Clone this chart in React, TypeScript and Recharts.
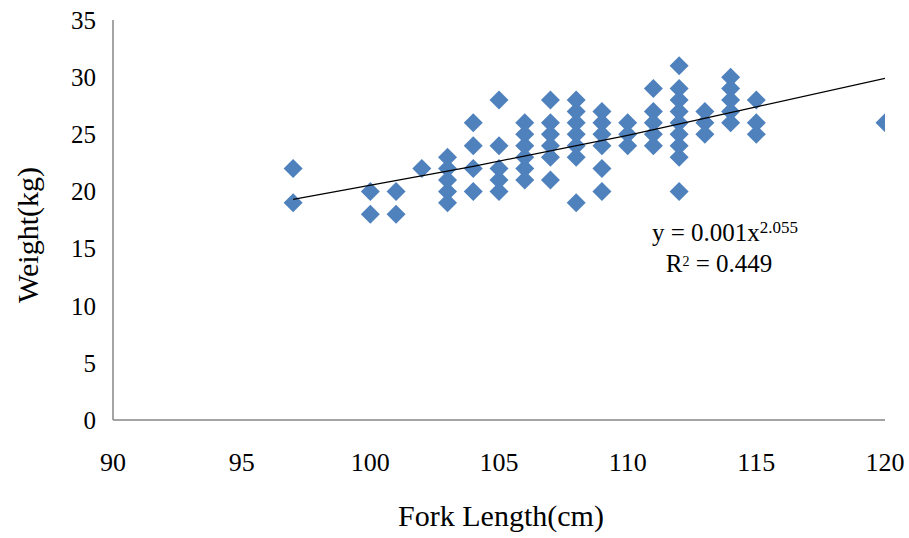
import { ScatterChart, Scatter, XAxis, YAxis } from "recharts";

// fork length (cm) columns and the weights (kg) measured at each
const lengths = [97, 100, 101, 102, 103, 104, 105, 106, 107, 108, 109, 110, 111, 112, 113, 114, 115, 120];
const weights = [
  [22, 19],
  [20, 18],
  [20, 18],
  [22],
  [23, 22, 21, 20, 19],
  [26, 24, 22, 20],
  [28, 24, 22, 21, 20],
  [26, 25, 24, 23, 22, 21],
  [28, 26, 25, 24, 23, 21],
  [28, 27, 26, 25, 24, 23, 19],
  [27, 26, 25, 24, 22, 20],
  [26, 25, 24],
  [29, 27, 26, 25, 24],
  [31, 29, 28, 27, 26, 25, 24, 23, 20],
  [27, 26, 25],
  [30, 29, 28, 27, 26],
  [28, 26, 25],
  [26],
];

// power trendline
const trendX = [97, 104, 110, 115, 120];
const trendY = [19.3, 22.2, 24.9, 27.4, 29.9];

const xTicks = [90, 95, 100, 105, 110, 115, 120];
const yTicks = [0, 5, 10, 15, 20, 25, 30, 35];

const points = lengths.flatMap((len, i) =>
  weights[i].map((w) => ({ length: len, weight: w }))
);
const trend = trendX.map((x, i) => ({ length: x, weight: trendY[i] }));

const font = "'Times New Roman', 'Liberation Serif', serif";
const axisColor = "#868686";

const Diamond = (props: any) => {
  const { cx, cy } = props;
  const r = 9.5;
  return (
    <polygon
      points={`${cx},${cy - r} ${cx + r},${cy} ${cx},${cy + r} ${cx - r},${cy}`}
      fill="#4F81BD"
    />
  );
};

export default function App() {
  return (
    <div
      style={{
        position: "absolute",
        left: 0,
        top: 0,
        background: "#fff",
        fontFamily: font,
      }}
    >
      <ScatterChart
        width={909}
        height={538}
        margin={{ top: 20, right: 24, bottom: 58, left: 13 }}
        style={{ fontFamily: font }}
      >
        <XAxis
          type="number"
          dataKey="length"
          domain={[90, 120]}
          ticks={xTicks}
          interval={0}
          allowDataOverflow
          axisLine={{ stroke: axisColor, strokeWidth: 1.5 }}
          tickLine={false}
          tickSize={0}
          tickMargin={33}
          height={60}
          tick={{ fill: "#000", fontSize: 26, fontFamily: font, style: { fontFamily: font } }}
          label={{
            content: () => (
              <text x={501} y={526} textAnchor="middle" fontSize={30} fontFamily={font} fill="#000">
                Fork Length(cm)
              </text>
            ),
          }}
        />
        <YAxis
          type="number"
          dataKey="weight"
          domain={[0, 35]}
          ticks={yTicks}
          interval={0}
          axisLine={{ stroke: axisColor, strokeWidth: 1.5 }}
          tickLine={false}
          tickSize={0}
          tickMargin={17}
          width={100}
          tick={{ fill: "#000", fontSize: 25, fontFamily: font, style: { fontFamily: font } }}
          label={{
            content: () => (
              <text
                x={0}
                y={0}
                transform="translate(38 235) rotate(-90)"
                textAnchor="middle"
                fontSize={30}
                fontFamily={font}
                fill="#000"
              >
                Weight(kg)
              </text>
            ),
          }}
        />
        <Scatter data={points} shape={Diamond} isAnimationActive={false} />
        <Scatter
          data={trend}
          line={{ stroke: "#000", strokeWidth: 1.2 }}
          lineType="joint"
          shape={() => <g />}
          isAnimationActive={false}
        />
      </ScatterChart>
      <div
        style={{
          position: "absolute",
          left: 600,
          top: 213,
          width: 250,
          textAlign: "center",
          fontFamily: font,
          fontSize: 25,
          lineHeight: "29px",
          color: "#000",
        }}
      >
        <div>
          y = 0.001x<sup style={{ fontSize: 17, verticalAlign: "8px" }}>2.055</sup>
        </div>
        <div style={{ marginLeft: -12 }}>
          R<sup style={{ fontSize: 14, verticalAlign: "6px" }}>2</sup> = 0.449
        </div>
      </div>
    </div>
  );
}
